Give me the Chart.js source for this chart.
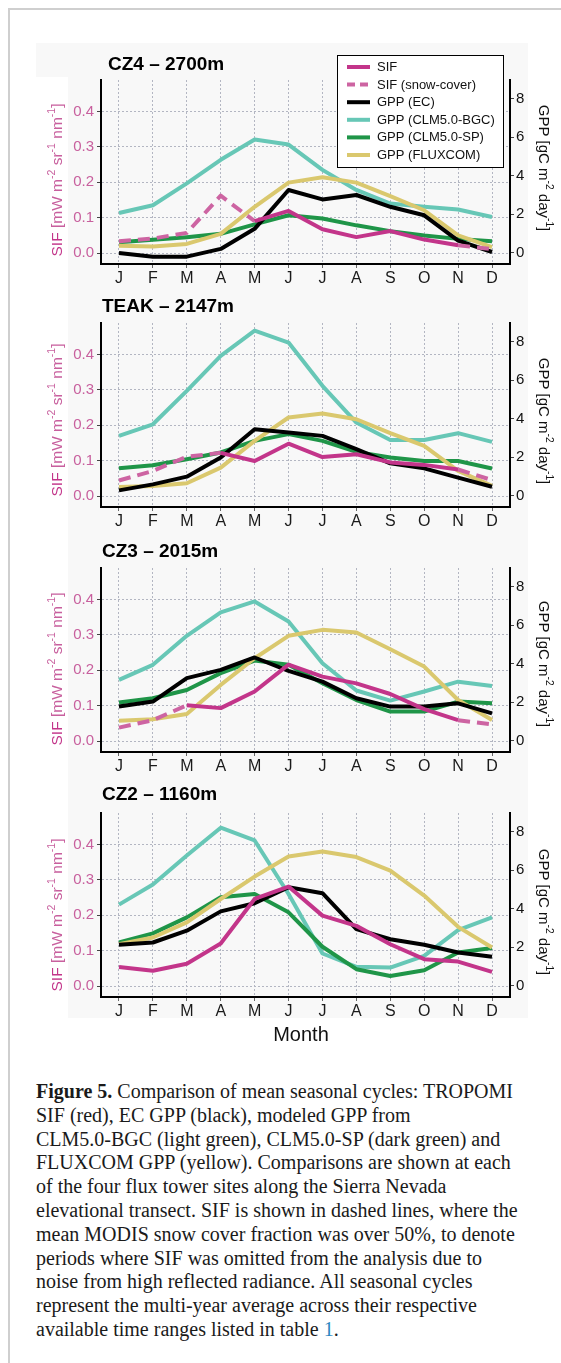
<!DOCTYPE html>
<html>
<head>
<meta charset="utf-8">
<script src="https://cdn.jsdelivr.net/npm/chart.js@4/dist/chart.umd.min.js"></script>
<style>
  html, body { margin: 0; padding: 0; background: #fff; }
  body { width: 561px; height: 1363px; position: relative; overflow: hidden; }
  .frame { position: absolute; left: 8px; top: 8px; width: 600px; height: 1400px;
           border-top: 2px solid #cfcfcf; border-left: 2px solid #cfcfcf; box-sizing: border-box; }
  .bg { position: absolute; background: #f8f8f8; }
  canvas { position: absolute; left: 0; }
  .cap { position: absolute; left: 36px; top: 1080px; font-family: "Liberation Serif", "DejaVu Serif", serif;
         font-size: 20px; line-height: 23.8px; color: #1a1a1a; white-space: nowrap; }
  .cap b { font-weight: bold; }
  .cap .ref { color: #2b86c0; }
</style>
</head>
<body>
<div class="frame"></div>
<div class="bg" style="left:36px;top:43px;width:492px;height:34px"></div>
<div class="bg" style="left:68px;top:77px;width:460px;height:941px"></div>

<canvas id="p0" width="561" height="243" style="top:40px"></canvas>
<canvas id="p1" width="561" height="245" style="top:283px"></canvas>
<canvas id="p2" width="561" height="245" style="top:528px"></canvas>
<canvas id="p3" width="561" height="277" style="top:773px"></canvas>

<div class="cap">
<div><b>Figure 5.</b> Comparison of mean seasonal cycles: TROPOMI</div>
<div>SIF (red), EC GPP (black), modeled GPP from</div>
<div>CLM5.0-BGC (light green), CLM5.0-SP (dark green) and</div>
<div>FLUXCOM GPP (yellow). Comparisons are shown at each</div>
<div>of the four flux tower sites along the Sierra Nevada</div>
<div>elevational transect. SIF is shown in dashed lines, where the</div>
<div>mean MODIS snow cover fraction was over 50%, to denote</div>
<div>periods where SIF was omitted from the analysis due to</div>
<div>noise from high reflected radiance. All seasonal cycles</div>
<div>represent the multi-year average across their respective</div>
<div>available time ranges listed in table <span class="ref">1</span>.</div>
</div>

<script>
// ---- data ---------------------------------------------------------------
const MONTHS = ['J', 'F', 'M', 'A', 'M', 'J', 'J', 'A', 'S', 'O', 'N', 'D'];
const SIF_TICKS = [0, 0.1, 0.2, 0.3, 0.4];
const GPP_TICKS = [0, 2, 4, 6, 8];
const SITES = ['CZ4 \u2013 2700m', 'TEAK \u2013 2147m', 'CZ3 \u2013 2015m', 'CZ2 \u2013 1160m'];

// CZ4 - 2700 m
const sifCZ4     = [0.033, 0.041, 0.057, 0.162, 0.090, 0.119, 0.067, 0.045, 0.062, 0.038, 0.022, 0.011];
const snowCZ4    = [1, 1, 1, 1, 1, 0, 0, 0, 0, 0, 1, 1];
const ecCZ4      = [0.00, -0.19, -0.19, 0.21, 1.25, 3.26, 2.77, 3.00, 2.39, 1.95, 0.64, 0.05];
const bgcCZ4     = [2.07, 2.47, 3.60, 4.82, 5.87, 5.61, 4.30, 3.26, 2.56, 2.39, 2.25, 1.86];
const spCZ4      = [0.56, 0.68, 0.82, 0.99, 1.48, 1.95, 1.78, 1.43, 1.13, 0.91, 0.73, 0.61];
const fluxcomCZ4 = [0.38, 0.33, 0.47, 0.99, 2.39, 3.64, 3.92, 3.64, 2.94, 2.21, 0.91, 0.30];

// TEAK - 2147 m
const sifTEAK     = [0.044, 0.071, 0.111, 0.122, 0.099, 0.148, 0.110, 0.118, 0.095, 0.088, 0.075, 0.045];
const snowTEAK    = [1, 1, 1, 1, 0, 0, 0, 0, 0, 0, 1, 1];
const ecTEAK      = [0.29, 0.60, 1.00, 1.99, 3.45, 3.28, 3.11, 2.42, 1.69, 1.43, 0.95, 0.48];
const bgcTEAK     = [3.11, 3.71, 5.44, 7.25, 8.55, 7.94, 5.70, 3.80, 2.90, 2.90, 3.25, 2.80];
const spTEAK      = [1.43, 1.59, 1.90, 2.25, 2.85, 3.20, 2.85, 2.28, 1.99, 1.81, 1.81, 1.42];
const fluxcomTEAK = [0.47, 0.52, 0.66, 1.47, 2.85, 4.06, 4.27, 3.97, 3.25, 2.59, 1.30, 0.52];

// CZ3 - 2015 m
const sifCZ3     = [0.038, 0.059, 0.101, 0.093, 0.140, 0.216, 0.182, 0.163, 0.133, 0.090, 0.059, 0.047];
const snowCZ3    = [1, 1, 1, 0, 0, 0, 0, 0, 0, 0, 1, 1];
const ecCZ3      = [1.78, 2.04, 3.25, 3.68, 4.32, 3.63, 3.07, 2.21, 1.78, 1.78, 1.95, 1.43];
const bgcCZ3     = [3.16, 3.94, 5.44, 6.65, 7.22, 6.18, 4.02, 2.61, 2.09, 2.56, 3.07, 2.85];
const spCZ3      = [1.99, 2.21, 2.64, 3.51, 4.16, 3.94, 2.99, 2.12, 1.52, 1.52, 2.04, 1.95];
const fluxcomCZ3 = [1.05, 1.12, 1.40, 2.90, 4.28, 5.44, 5.75, 5.61, 4.75, 3.85, 2.12, 1.09];

// CZ2 - 1160 m
const sifCZ2     = [0.054, 0.043, 0.063, 0.120, 0.246, 0.281, 0.199, 0.170, 0.118, 0.076, 0.069, 0.040];
const snowCZ2    = [0, 0, 0, 0, 0, 0, 0, 0, 0, 0, 0, 0];
const ecCZ2      = [2.13, 2.25, 2.86, 3.86, 4.28, 5.11, 4.80, 2.94, 2.42, 2.13, 1.73, 1.51];
const bgcCZ2     = [4.21, 5.25, 6.75, 8.19, 7.53, 4.76, 1.68, 0.99, 0.95, 1.56, 2.89, 3.55];
const spCZ2      = [2.25, 2.72, 3.55, 4.59, 4.76, 3.81, 2.03, 0.87, 0.52, 0.81, 1.73, 1.96];
const fluxcomCZ2 = [2.16, 2.51, 3.29, 4.50, 5.66, 6.70, 6.96, 6.67, 5.97, 4.68, 3.06, 1.99];

// ---- styling ------------------------------------------------------------
const FAMILY = '"Liberation Sans", Arial, Helvetica, sans-serif';
const C_SIF = '#c3358a';
const C_SNOW = '#cd64a2';
const C_SIF_TXT = '#c8609e';
const C_EC = '#000000';
const C_BGC = '#67c7b6';
const C_SP = '#1f9548';
const C_FLUX = '#dac86e';
const C_GRID = '#b3b6c2';
const SNOW_DASH = [12, 7];

const panels = [
  { sif: sifCZ4,  snow: snowCZ4,  ec: ecCZ4,  bgc: bgcCZ4,  sp: spCZ4,  flux: fluxcomCZ4 },
  { sif: sifTEAK, snow: snowTEAK, ec: ecTEAK, bgc: bgcTEAK, sp: spTEAK, flux: fluxcomTEAK },
  { sif: sifCZ3,  snow: snowCZ3,  ec: ecCZ3,  bgc: bgcCZ3,  sp: spCZ3,  flux: fluxcomCZ3 },
  { sif: sifCZ2,  snow: snowCZ2,  ec: ecCZ2,  bgc: bgcCZ2,  sp: spCZ2,  flux: fluxcomCZ2 }
];

// per-panel text placement (canvas pixels)
const LAYOUT = [
  { titleX: 108, titleY: 25, leftDy: 100, rightDy: 88, legend: true },
  { titleX: 102, titleY: 24, leftDy: 97,  rightDy: 98 },
  { titleX: 102, titleY: 24, leftDy: 101, rightDy: 96 },
  { titleX: 102, titleY: 22, leftDy: 102, rightDy: 99, xTitle: 'Month' }
];

const PLOT_TOP = 40, PLOT_H = 184, LEFT_W = 101, RIGHT_W = 51;

const SIF_TITLE = [
  { t: 'SIF', c: C_SIF }, { t: ' [mW m' }, { t: '-2', sup: true }, { t: ' sr' },
  { t: '-1', sup: true }, { t: ' nm' }, { t: '-1', sup: true }, { t: ']' }
];
const GPP_TITLE = [
  { t: 'GPP [gC m' }, { t: '-2', sup: true }, { t: ' day' }, { t: '-1', sup: true }, { t: ']' }
];

const LEGEND = [
  { label: 'SIF', color: C_SIF },
  { label: 'SIF (snow-cover)', color: C_SNOW, dash: [8, 5] },
  { label: 'GPP (EC)', color: C_EC },
  { label: 'GPP (CLM5.0-BGC)', color: C_BGC },
  { label: 'GPP (CLM5.0-SP)', color: C_SP },
  { label: 'GPP (FLUXCOM)', color: C_FLUX }
];

function drawRich(ctx, parts, x, y, angle, size, color) {
  ctx.save();
  ctx.translate(x, y);
  ctx.rotate(angle);
  ctx.textBaseline = 'middle';
  ctx.textAlign = 'left';
  let total = 0;
  parts.forEach(p => {
    ctx.font = (p.sup ? size * 0.68 : size) + 'px ' + FAMILY;
    total += ctx.measureText(p.t).width;
  });
  let cx = -total / 2;
  parts.forEach(p => {
    ctx.font = (p.sup ? size * 0.68 : size) + 'px ' + FAMILY;
    ctx.fillStyle = p.c || color;
    ctx.fillText(p.t, cx, p.sup ? -size * 0.36 : 0);
    cx += ctx.measureText(p.t).width;
  });
  ctx.restore();
}

const decor = {
  id: 'decor',
  afterDraw(chart, args, o) {
    const ctx = chart.ctx;
    const a = chart.chartArea;
    const L = o.layout;
    ctx.save();
    ctx.fillStyle = '#000';
    ctx.textBaseline = 'middle';
    ctx.textAlign = 'left';
    ctx.font = 'bold 19px ' + FAMILY;
    ctx.fillText(o.title, L.titleX, L.titleY);

    drawRich(ctx, SIF_TITLE, 58, a.top + L.leftDy, -Math.PI / 2, 15.5, C_SIF_TXT);
    drawRich(ctx, GPP_TITLE, 543, a.top + L.rightDy, Math.PI / 2, 15, '#111');

    if (L.legend) {
      const bx = 337, by = 15, bw = 166, bh = 112, rowH = 17.6;
      ctx.fillStyle = '#fff';
      ctx.fillRect(bx, by, bw, bh);
      ctx.strokeStyle = '#000';
      ctx.lineWidth = 1;
      ctx.strokeRect(bx + 0.5, by + 0.5, bw, bh);
      ctx.font = '13px ' + FAMILY;
      LEGEND.forEach((it, i) => {
        const yy = by + 12 + i * rowH;
        ctx.beginPath();
        ctx.setLineDash(it.dash || []);
        ctx.strokeStyle = it.color;
        ctx.lineWidth = 4;
        ctx.moveTo(bx + 10, yy);
        ctx.lineTo(bx + 33, yy);
        ctx.stroke();
        ctx.setLineDash([]);
        ctx.fillStyle = '#111';
        ctx.fillText(it.label, bx + 40, yy + 0.5);
      });
    }
    if (L.xTitle) {
      ctx.fillStyle = '#111';
      ctx.textAlign = 'center';
      ctx.font = '20px ' + FAMILY;
      ctx.fillText(L.xTitle, 301, 262);
    }
    ctx.restore();
  }
};

function pts(arr) { return arr.map((v, i) => ({ x: i, y: v })); }

function lineDs(label, data, color, axis) {
  return {
    label, data: pts(data), yAxisID: axis,
    borderColor: color, backgroundColor: color,
    borderWidth: 4, pointRadius: 0, pointHoverRadius: 0,
    borderJoinStyle: 'round', borderCapStyle: 'butt',
    tension: 0, fill: false
  };
}

panels.forEach((p, k) => {
  const canvas = document.getElementById('p' + k);
  const H = canvas.height;
  const snow = p.snow;
  const sifDs = lineDs('SIF', p.sif, C_SIF, 'ySif');
  sifDs.segment = {
    borderDash: c => (snow[c.p0DataIndex] && snow[c.p1DataIndex]) ? SNOW_DASH : undefined,
    borderColor: c => (snow[c.p0DataIndex] && snow[c.p1DataIndex]) ? C_SNOW : undefined
  };

  new Chart(canvas, {
    type: 'line',
    data: {
      datasets: [
        sifDs,
        lineDs('GPP (EC)', p.ec, C_EC, 'yGpp'),
        lineDs('GPP (FLUXCOM)', p.flux, C_FLUX, 'yGpp'),
        lineDs('GPP (CLM5.0-SP)', p.sp, C_SP, 'yGpp'),
        lineDs('GPP (CLM5.0-BGC)', p.bgc, C_BGC, 'yGpp')
      ]
    },
    options: {
      responsive: false,
      animation: false,
      events: [],
      layout: { padding: { top: PLOT_TOP, left: 0, right: 0, bottom: 0 } },
      plugins: {
        legend: { display: false },
        tooltip: { enabled: false },
        title: { display: false },
        decor: { title: SITES[k], layout: LAYOUT[k] }
      },
      scales: {
        x: {
          type: 'linear', min: -0.53, max: 11.53,
          afterBuildTicks: s => { s.ticks = MONTHS.map((m, i) => ({ value: i })); },
          afterFit: s => { s.height = H - PLOT_TOP - PLOT_H; },
          ticks: {
            callback: v => MONTHS[v], autoSkip: false, maxRotation: 0,
            color: '#1a1a1a', font: { family: FAMILY, size: 16 }, padding: 1
          },
          grid: { color: C_GRID, lineWidth: 1, tickLength: 4, tickColor: '#666', tickWidth: 1 },
          border: { display: true, color: '#000', width: 2, dash: [2, 2] }
        },
        ySif: {
          type: 'linear', position: 'left', min: -0.031, max: 0.489,
          afterBuildTicks: s => { s.ticks = SIF_TICKS.map(v => ({ value: v })); },
          afterFit: s => { s.width = LEFT_W; },
          ticks: {
            callback: v => v.toFixed(1), color: C_SIF_TXT,
            font: { family: FAMILY, size: 15 }, padding: 3
          },
          grid: { color: C_GRID, lineWidth: 1, tickLength: 4, tickColor: '#444', tickWidth: 1 },
          border: { display: true, color: '#000', width: 2, dash: [2, 2] }
        },
        yGpp: {
          type: 'linear', position: 'right', min: -0.57, max: 8.95,
          afterBuildTicks: s => { s.ticks = GPP_TICKS.map(v => ({ value: v })); },
          afterFit: s => { s.width = RIGHT_W; },
          ticks: {
            callback: v => String(v), color: '#111',
            font: { family: FAMILY, size: 15 }, padding: 2
          },
          grid: { drawOnChartArea: false, tickLength: 4, tickColor: '#444', tickWidth: 1 },
          border: { display: true, color: '#000', width: 2 }
        }
      }
    },
    plugins: [decor]
  });
});
</script>
</body>
</html>
